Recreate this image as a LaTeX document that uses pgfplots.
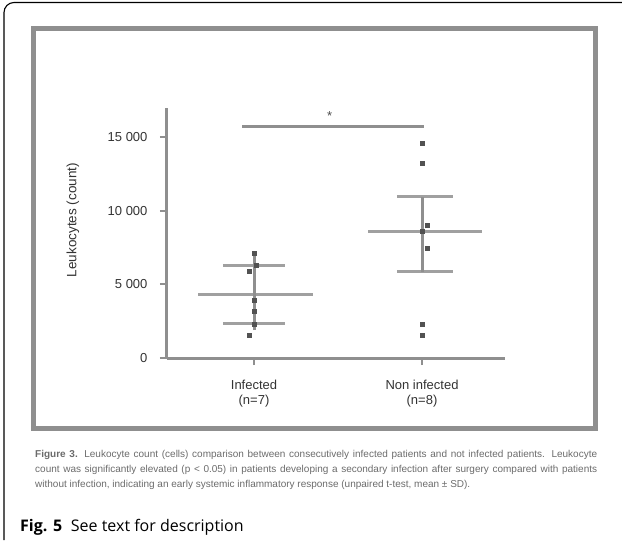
\documentclass[border=0pt]{standalone}
\usepackage{pgfplots}
\pgfplotsset{compat=1.18}
\usepackage{fontspec}
\setmainfont{Liberation Sans}
\newfontfamily\capfont{Open Sans}
\definecolor{axgray}{gray}{0.56}
\definecolor{ptgray}{gray}{0.32}
\definecolor{txtgray}{gray}{0.42}
\begin{document}
\begin{tikzpicture}
\path[use as bounding box] (0pt,0pt) rectangle (622pt,542pt);
\draw[line width=1.1pt] (622pt,539.5pt) -- (14pt,539.5pt) arc[start angle=90,end angle=180,radius=10pt] -- (4pt,2pt);
\draw[axgray,line width=5pt] (33pt,513pt) rectangle (595pt,114pt);
\begin{axis}[at={(167pt,184pt)}, anchor=south west, scale only axis,
  width=338pt, height=250.5pt,
  xmin=0.482, xmax=2.494, ymin=0, ymax=17000,
  axis x line=bottom, axis y line=left,
  axis line style={axgray, line width=3pt, -},
  xtick={1,2},
  xticklabels={{Infected\\(n=7)},{Non infected\\(n=8)}},
  x tick label style={align=center, font=\fontsize{13}{15}\selectfont, text=black!80, yshift=-12pt},
  ytick={0,5000,10000,15000},
  yticklabels={0,5 000,10 000,15 000},
  scaled y ticks=false,
  y tick label style={font=\fontsize{13}{15}\selectfont, text=black!80, xshift=-9pt},
  /pgf/number format/assume math mode=true,
  tick style={axgray, line width=2pt},
  tick align=outside, major tick length=7pt,
  clip=false]
\addplot[axgray, line width=2.5pt] coordinates {(0.929,15700) (2.012,15700)};
% group 1 mean and SD
\addplot[axgray!85, line width=3pt] coordinates {(0.667,4280) (1.351,4280)};
\addplot[axgray!85, line width=3pt] coordinates {(0.815,6270) (1.185,6270)};
\addplot[axgray!85, line width=3pt] coordinates {(0.815,2340) (1.185,2340)};
\addplot[axgray, line width=3pt] coordinates {(1,1900) (1,7100)};
% group 2 mean and SD
\addplot[axgray!85, line width=3pt] coordinates {(1.679,8580) (2.357,8580)};
\addplot[axgray!85, line width=3pt] coordinates {(1.85,10960) (2.185,10960)};
\addplot[axgray!85, line width=3pt] coordinates {(1.85,5860) (2.185,5860)};
\addplot[axgray, line width=3pt] coordinates {(2,5860) (2,10960)};
% points
\addplot[only marks, mark=square*, mark size=2pt, ptgray] coordinates {
 (1,7100) (1.01,6270) (0.97,5860) (1,3940) (1,3145) (1,2310) (0.97,1560)};
\addplot[only marks, mark=square*, mark size=2pt, ptgray] coordinates {
 (2,14580) (2,13220) (2.03,9030) (2,8580) (2.03,7450) (2,2310) (2,1560)};
\node[font=\fontsize{13}{15}\selectfont, text=black!70] at (axis cs:1.45,16450) {*};
\end{axis}
\node[rotate=90, font=\fontsize{13.5}{15}\selectfont, text=black!80] at (73pt,322pt) {Leukocytes (count)};
\node[anchor=north west, text width=562pt, align=justify, inner sep=0pt,
  font=\fontsize{10}{15}\selectfont, text=txtgray] at (35pt,92pt)
 {\textbf{Figure 3.} Leukocyte count (cells) comparison between consecutively infected patients and not infected patients. Leukocyte count was significantly elevated (p {\textless} 0.05) in patients developing a secondary infection after surgery compared with patients without infection, indicating an early systemic inflammatory response (unpaired t-test, mean {\textpm} SD).};
\node[anchor=base west, inner sep=0pt, font=\capfont\fontsize{16}{18}\selectfont] at (20pt,11pt)
 {\textbf{Fig. 5}\hspace{0.55em}See text for description};
\end{tikzpicture}
\end{document}
